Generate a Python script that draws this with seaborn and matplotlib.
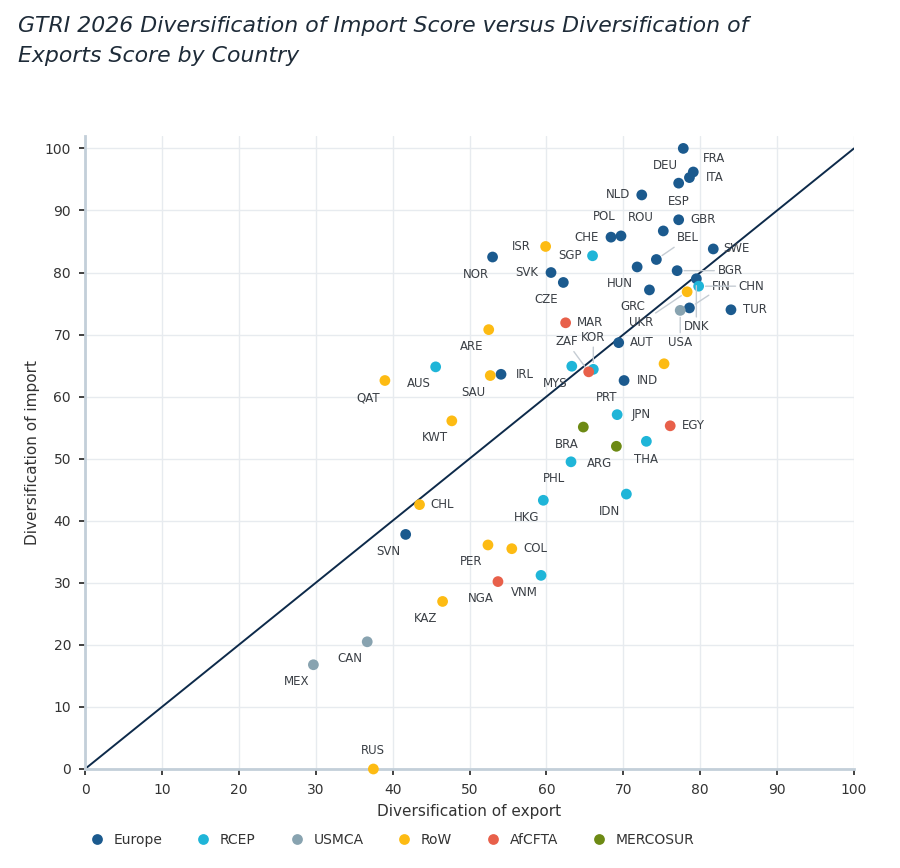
import seaborn as sns
import matplotlib.pyplot as plt
import pandas as pd

# trade blocs and their colours
groups = ["Europe", "RCEP", "USMCA", "RoW", "AfCFTA", "MERCOSUR"]
group_colors = ["#1b5a8e", "#1fb5d8", "#88a3b0", "#fdbb13", "#e8604a", "#6d8a14"]

europe_codes = ["DEU", "FRA", "ITA", "ESP", "NLD", "GBR", "ROU", "POL", "CHE", "SWE", "BEL", "NOR",
                "SVK", "HUN", "BGR", "DNK", "CZE", "GRC", "FIN", "TUR", "AUT", "IRL", "PRT", "SVN"]
europe_export = [77.8, 79.1, 78.6, 77.2, 72.4, 77.2, 75.2, 69.7, 68.4, 81.7, 74.3, 53.0,
                 60.6, 71.8, 77.0, 79.5, 62.2, 73.4, 78.6, 84.0, 69.4, 54.1, 70.1, 41.7]
europe_import = [100.0, 96.2, 95.3, 94.4, 92.5, 88.5, 86.7, 85.9, 85.7, 83.8, 82.1, 82.5,
                 80.0, 80.9, 80.3, 79.0, 78.4, 77.2, 74.3, 74.0, 68.7, 63.6, 62.6, 37.8]

rcep_codes = ["SGP", "CHN", "AUS", "MYS", "KOR", "JPN", "THA", "PHL", "HKG", "IDN", "VNM"]
rcep_export = [66.0, 79.8, 45.6, 63.3, 66.1, 69.2, 73.0, 63.2, 59.6, 70.4, 59.3]
rcep_import = [82.7, 77.8, 64.8, 64.9, 64.4, 57.1, 52.8, 49.5, 43.3, 44.3, 31.2]

usmca_codes = ["USA", "CAN", "MEX"]
usmca_export = [77.4, 36.7, 29.7]
usmca_import = [73.9, 20.5, 16.8]

row_codes = ["ISR", "UKR", "ARE", "QAT", "SAU", "IND", "KWT", "CHL", "PER", "COL", "KAZ", "RUS"]
row_export = [59.9, 78.3, 52.5, 39.0, 52.7, 75.3, 47.7, 43.5, 52.4, 55.5, 46.5, 37.5]
row_import = [84.2, 76.9, 70.8, 62.6, 63.4, 65.3, 56.1, 42.6, 36.1, 35.5, 27.0, 0.0]

afcfta_codes = ["MAR", "ZAF", "EGY", "NGA"]
afcfta_export = [62.5, 65.5, 76.1, 53.7]
afcfta_import = [71.9, 64.0, 55.3, 30.2]

mercosur_codes = ["BRA", "ARG"]
mercosur_export = [64.8, 69.1]
mercosur_import = [55.1, 52.0]

frames = []
for g, c, ex, im in [("Europe", europe_codes, europe_export, europe_import),
                     ("RCEP", rcep_codes, rcep_export, rcep_import),
                     ("USMCA", usmca_codes, usmca_export, usmca_import),
                     ("RoW", row_codes, row_export, row_import),
                     ("AfCFTA", afcfta_codes, afcfta_export, afcfta_import),
                     ("MERCOSUR", mercosur_codes, mercosur_export, mercosur_import)]:
    frames.append(pd.DataFrame({"code": c, "export": ex, "import": im, "group": g}))
df = pd.concat(frames, ignore_index=True)

# label offsets in pixels (right, down); anything not listed goes below-left
label_offsets = {
    "DEU": (-18, 17), "FRA": (21, -13), "ITA": (25, 0), "ESP": (0, 18), "NLD": (-24, 0),
    "GBR": (24, 0), "ROU": (-22, -13), "POL": (-17, -19), "CHE": (-24, 0), "BEL": (32, -22),
    "SWE": (23, 0), "SVK": (-24, 0), "BGR": (53, 0), "DNK": (0, 48), "FIN": (32, -21),
    "TUR": (24, 0), "AUT": (23, 0), "IRL": (24, 0), "SGP": (-23, 0), "CHN": (53, 0),
    "KOR": (0, -32), "JPN": (24, 0), "THA": (0, 18), "USA": (0, 32), "ISR": (-24, 0),
    "UKR": (-46, 31), "CHL": (23, 0), "COL": (24, 0), "RUS": (0, -19), "MAR": (24, 0),
    "ZAF": (-22, -30), "EGY": (23, 0),
}
leaders = ["BEL", "BGR", "DNK", "FIN", "CHN", "KOR", "USA", "UKR", "ZAF"]

sns.set_style("whitegrid")
plt.rcParams['font.family'] = ['DejaVu Sans']

fig = plt.figure(figsize=(9, 8.68), dpi=100)
ax = fig.add_axes([85/900, 1-769/868, 769/900, 633/868])

ax.axline((0, 0), slope=1, color="#0d2a4a", lw=1.4, zorder=2)

sns.scatterplot(data=df, x="export", y="import", hue="group", hue_order=groups,
                palette=group_colors, s=60, linewidth=0, zorder=3, clip_on=False, ax=ax)

for _, row in df.iterrows():
    dx, dy = label_offsets.get(row["code"], (-17, 17))
    if row["code"] in leaders:
        ax.annotate(row["code"], (row["export"], row["import"]), xytext=(dx, -dy),
                    textcoords="offset pixels", ha="center", va="center", fontsize=8.5,
                    color="#3a3f45", zorder=4,
                    arrowprops=dict(arrowstyle="-", color="#c5ccd3", lw=1,
                                    shrinkA=0, shrinkB=5))
    else:
        ax.annotate(row["code"], (row["export"], row["import"]), xytext=(dx, -dy),
                    textcoords="offset pixels", ha="center", va="center", fontsize=8.5,
                    color="#3a3f45", zorder=4)

ax.set_xlim(0, 100)
ax.set_ylim(0, 102)
ax.set_xticks(range(0, 101, 10))
ax.set_yticks(range(0, 101, 10))
ax.grid(color="#e7ebef", lw=1)
ax.tick_params(bottom=True, left=True, length=4, width=1.3, color="#333333",
               pad=6, labelsize=10, labelcolor="#333333")
for s in ["top", "right"]:
    ax.spines[s].set_visible(False)
for s in ["left", "bottom"]:
    ax.spines[s].set_color("#c3cfd9")
    ax.spines[s].set_linewidth(2)

ax.set_xlabel("Diversification of export", fontsize=11, color="#333333")
ax.set_ylabel("Diversification of import", fontsize=11, color="#333333")
ax.xaxis.set_label_coords(0.5, -0.055)
ax.yaxis.set_label_coords(-0.058, 0.5)

sns.move_legend(ax, "center left", bbox_to_anchor=(-0.01, -0.112), ncol=6, title=None,
                frameon=False, fontsize=10, handlelength=1, handletextpad=0.7,
                columnspacing=2.45, labelcolor="#333333")

fig.text(0.02, 0.981, "GTRI 2026 Diversification of Import Score versus Diversification of\n"
         "Exports Score by Country", ha="left", va="top", fontsize=15.8, style="italic",
         color="#1e2b38", linespacing=1.6)

plt.savefig("out.png", dpi=100)
